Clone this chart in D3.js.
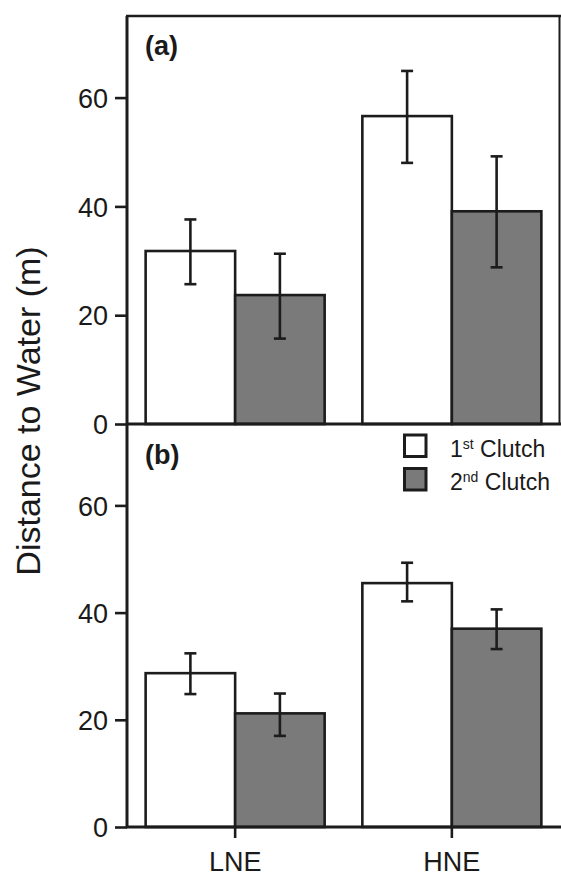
<!DOCTYPE html>
<html>
<head>
<meta charset="utf-8">
<script src="https://cdn.jsdelivr.net/npm/d3@7"></script>
<style>
  body { margin: 0; background: #fff; }
  text { font-family: "Liberation Sans", Arial, Helvetica, sans-serif; fill: #1a1a1a; }
</style>
</head>
<body>
<div id="chart"></div>
<script>
// data
const categories = ["LNE", "HNE"];
const series = ["1st Clutch", "2nd Clutch"];
const yTicks = [0, 20, 40, 60];

// panel (a)
const aFirstMean = [31.8, 56.6];
const aFirstLow = [25.7, 48.0];
const aFirstHigh = [37.6, 64.9];
const aSecondMean = [23.7, 39.1];
const aSecondLow = [15.7, 28.8];
const aSecondHigh = [31.3, 49.2];

// panel (b)
const bFirstMean = [28.7, 45.5];
const bFirstLow = [24.8, 42.1];
const bFirstHigh = [32.4, 49.3];
const bSecondMean = [21.2, 37.0];
const bSecondLow = [17.0, 33.2];
const bSecondHigh = [24.9, 40.6];

const svgWidth = 561;
const svgHeight = 877;
const ink = "#1c1c1c";
const fills = ["#ffffff", "#7a7a7a"];

const svg = d3.select("#chart")
  .append("svg")
  .attr("width", svgWidth)
  .attr("height", svgHeight);

// x scales shared by both panels
const x0 = d3.scaleBand()
  .domain(categories)
  .range([127, 560])
  .paddingInner(0.174)
  .paddingOuter(0.086);

const x1 = d3.scaleBand()
  .domain(series)
  .range([0, x0.bandwidth()]);

function buildRows(m1, l1, h1, m2, l2, h2) {
  const rows = [];
  categories.forEach((c, i) => {
    rows.push({ cat: c, s: series[0], mean: m1[i], lo: l1[i], hi: h1[i] });
    rows.push({ cat: c, s: series[1], mean: m2[i], lo: l2[i], hi: h2[i] });
  });
  return rows;
}

function drawPanel(rows, top, bottom, label, full) {
  const y = d3.scaleLinear().domain([0, 75]).range([bottom, top]);
  const g = svg.append("g");

  // bars
  g.selectAll("rect.bar")
    .data(rows)
    .enter()
    .append("rect")
    .attr("class", "bar")
    .attr("x", d => x0(d.cat) + x1(d.s))
    .attr("y", d => y(d.mean))
    .attr("width", x1.bandwidth())
    .attr("height", d => y(0) - y(d.mean))
    .attr("fill", d => fills[series.indexOf(d.s)])
    .attr("stroke", ink)
    .attr("stroke-width", 2.6);

  // error bars
  const eb = g.selectAll("g.err")
    .data(rows)
    .enter()
    .append("g")
    .attr("class", "err")
    .attr("transform", d => `translate(${x0(d.cat) + x1(d.s) + x1.bandwidth() / 2},0)`);
  eb.append("line")
    .attr("y1", d => y(d.lo)).attr("y2", d => y(d.hi))
    .attr("stroke", ink).attr("stroke-width", 2.6);
  eb.append("line")
    .attr("x1", -6).attr("x2", 6)
    .attr("y1", d => y(d.hi)).attr("y2", d => y(d.hi))
    .attr("stroke", ink).attr("stroke-width", 2.6);
  eb.append("line")
    .attr("x1", -6).attr("x2", 6)
    .attr("y1", d => y(d.lo)).attr("y2", d => y(d.lo))
    .attr("stroke", ink).attr("stroke-width", 2.6);

  // left axis
  const leftAxis = d3.axisLeft(y).tickValues(yTicks).tickSize(12).tickPadding(7).tickFormat(d3.format("d"));
  const ag = g.append("g")
    .attr("transform", "translate(127,0)")
    .call(leftAxis);
  ag.select(".domain").remove();
  ag.selectAll(".tick line").attr("stroke", ink).attr("stroke-width", 2.6);
  ag.selectAll(".tick text")
    .attr("font-size", 27)
    .attr("dy", "0.36em")
    .style("font-family", "'Liberation Sans', Arial, sans-serif")
    .attr("fill", ink);

  // frame lines
  g.append("line").attr("x1", 127).attr("x2", 127).attr("y1", top).attr("y2", bottom)
    .attr("stroke", ink).attr("stroke-width", 3);
  g.append("line").attr("x1", 126).attr("x2", 561).attr("y1", bottom).attr("y2", bottom)
    .attr("stroke", ink).attr("stroke-width", 3);
  if (full) {
    g.append("line").attr("x1", 126).attr("x2", 561).attr("y1", top).attr("y2", top)
      .attr("stroke", ink).attr("stroke-width", 2.6);
    g.append("line").attr("x1", 559.5).attr("x2", 559.5).attr("y1", top).attr("y2", bottom)
      .attr("stroke", ink).attr("stroke-width", 2);
  }

  // panel label
  g.append("text")
    .attr("x", 145)
    .attr("y", top + 39)
    .attr("font-size", 27)
    .attr("font-weight", "bold")
    .text(label);

  return y;
}

const rowsA = buildRows(aFirstMean, aFirstLow, aFirstHigh, aSecondMean, aSecondLow, aSecondHigh);
const rowsB = buildRows(bFirstMean, bFirstLow, bFirstHigh, bSecondMean, bSecondLow, bSecondHigh);

drawPanel(rowsA, 16, 424, "(a)", true);
drawPanel(rowsB, 425, 827, "(b)", false);

// bottom category axis
const bottomAxis = d3.axisBottom(x0).tickSize(11).tickPadding(14);
const xg = svg.append("g")
  .attr("transform", "translate(0,827)")
  .call(bottomAxis);
xg.select(".domain").remove();
xg.selectAll(".tick line").attr("stroke", ink).attr("stroke-width", 2.6);
xg.selectAll(".tick text")
  .attr("font-size", 27)
  .style("font-family", "'Liberation Sans', Arial, sans-serif")
  .attr("fill", ink);

// legend
const legend = svg.append("g");
const legendRows = [
  { num: "1", sup: "st" },
  { num: "2", sup: "nd" }
];
legendRows.forEach((d, i) => {
  const yy = 435 + i * 33.5;
  legend.append("rect")
    .attr("x", 404.5).attr("y", yy)
    .attr("width", 21.5).attr("height", 21.5)
    .attr("fill", fills[i])
    .attr("stroke", ink)
    .attr("stroke-width", 3);
  const t = legend.append("text")
    .attr("x", 450)
    .attr("y", yy + 21.5)
    .attr("font-size", 23);
  t.append("tspan").text(d.num);
  t.append("tspan").attr("font-size", 14).attr("dy", -8).text(d.sup);
  t.append("tspan").attr("dy", 8).text(" Clutch");
});

// y axis title
svg.append("text")
  .attr("transform", "translate(40,411) rotate(-90)")
  .attr("text-anchor", "middle")
  .attr("font-size", 34)
  .text("Distance to Water (m)");
</script>
</body>
</html>
